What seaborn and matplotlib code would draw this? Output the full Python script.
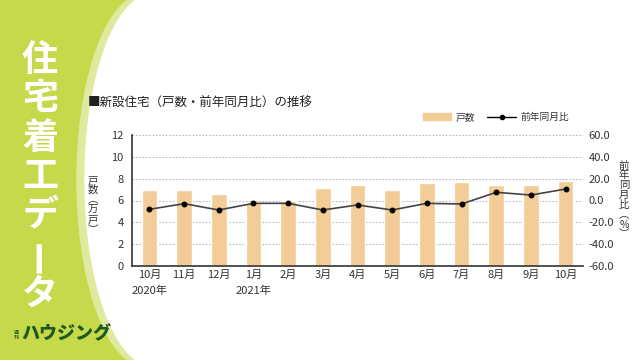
import numpy as np
import pandas as pd
import matplotlib.pyplot as plt
import seaborn as sns
from matplotlib.patches import Ellipse, Rectangle, Patch
from matplotlib.lines import Line2D

# データ
months = ['10月\n2020年', '11月', '12月', '1月\n2021年', '2月', '3月', '4月',
          '5月', '6月', '7月', '8月', '9月', '10月']
units = [7.0, 7.0, 6.6, 5.8, 6.0, 7.1, 7.4, 7.0, 7.6, 7.7, 7.4, 7.4, 7.8]   # 戸数（万戸）
yoy = [-8.1, -2.9, -8.7, -2.6, -2.6, -8.7, -4.1, -8.7, -2.6, -3.2, 7.5, 5.0, 10.5]  # 前年同月比（%）

sns.set_theme(style='white')
plt.rcParams['font.family'] = ['Noto Sans CJK JP', 'DejaVu Sans']

GREEN = '#c6d94b'
LIGHT = '#dfea9e'
BAR = '#f3cd98'
TXT = '#333333'

fig = plt.figure(figsize=(6.4, 3.6), dpi=100)

# 背景（左の緑パネル）
bg = fig.add_axes([0, 0, 1, 1], zorder=-1)
bg.set_xlim(0, 640)
bg.set_ylim(360, 0)
bg.axis('off')
bg.add_patch(Rectangle((0, 0), 640, 360, color=GREEN))
bg.add_patch(Ellipse((145, 180), 2 * 68, 2 * 186, color=LIGHT))
bg.add_patch(Ellipse((153, 180), 2 * 68, 2 * 186, color='white'))
bg.add_patch(Rectangle((153, 0), 490, 360, color='white'))

for i, ch in enumerate('住宅着工データ'):
    bg.text(40, 60 + i * 39, ch, fontsize=26, fontweight='bold', color='white',
            ha='center', va='center', rotation=90 if ch == 'ー' else 0)

bg.text(16, 335, '週\n刊', fontsize=3.5, color='#1d5a1d', ha='center', va='center',
        linespacing=0.9, fontweight='bold')
bg.text(21, 334, 'ハウジング', fontsize=13, color='#1d5a1d', ha='left', va='center',
        fontweight='heavy', style='italic')

# タイトル
fig.text(88 / 640, 1 - 103 / 360, '■新設住宅（戸数・前年同月比）の推移', fontsize=9,
         color='#222222', ha='left', va='center')

# メインの軸
ax = fig.add_axes([132 / 640, 1 - 266 / 360, 451 / 640, 131 / 360])
ax.set_facecolor('none')
df = pd.DataFrame({'month': months, 'units': units})
sns.barplot(data=df, x='month', y='units', order=months, color=BAR, width=0.45,
            saturation=1, ax=ax, zorder=2)
ax.set_ylim(0, 12)
ax.set_xlim(-0.5, 12.5)
ax.set_yticks(range(0, 13, 2))
ax.set_xlabel('')
ax.set_ylabel('')
ax.yaxis.grid(True, linestyle=(0, (2, 2)), color='#aaaaaa', linewidth=0.6, zorder=0)
ax.set_axisbelow(True)
for s in ['top', 'right']:
    ax.spines[s].set_visible(False)
ax.spines['left'].set_color('#333333')
ax.spines['bottom'].set_color('#333333')
ax.spines['left'].set_linewidth(1.2)
ax.spines['bottom'].set_linewidth(1.2)
ax.tick_params(axis='both', length=0, labelsize=8, labelcolor=TXT)
ax.tick_params(axis='y', pad=6)
ax.tick_params(axis='x', pad=3)
for lbl in ax.get_xticklabels():
    lbl.set_linespacing(1.6)

# 前年同月比（右軸）
ax2 = ax.twinx()
sns.lineplot(x=np.arange(len(yoy)), y=yoy, ax=ax2, color='#444444', linewidth=1.2,
             marker='o', markersize=3.5, markerfacecolor='black', markeredgecolor='black')
ax2.set_ylim(-60, 60)
ax2.set_yticks(range(-60, 61, 20))
ax2.set_yticklabels([f'{v:.1f}' for v in range(-60, 61, 20)])
ax2.tick_params(axis='y', length=0, labelsize=8, labelcolor=TXT, pad=4)
ax2.set_ylabel('')
for s in ['top', 'right', 'left', 'bottom']:
    ax2.spines[s].set_visible(False)

# 軸ラベル（縦書き）
fig.text(93 / 640, 1 - 205 / 360, '\n'.join('戸数︵万戸︶'), fontsize=7.5, color=TXT,
         ha='center', va='center', linespacing=0.98)
fig.text(624 / 640, 1 - 200 / 360, '\n'.join('前年同月比︵%︶'), fontsize=7.5, color=TXT,
         ha='center', va='center', linespacing=0.98)

# 凡例
handles = [Patch(color=BAR, label='戸数'),
           Line2D([0], [0], color='black', linewidth=1, marker='o', markersize=3, label='前年同月比')]
fig.legend(handles=handles, loc='center right', bbox_to_anchor=(578 / 640, 1 - 117 / 360),
           ncol=2, frameon=False, fontsize=7, handlelength=2.9, columnspacing=1.25,
           handletextpad=0.5, labelcolor=TXT)

fig.savefig('out.png', dpi=100)
